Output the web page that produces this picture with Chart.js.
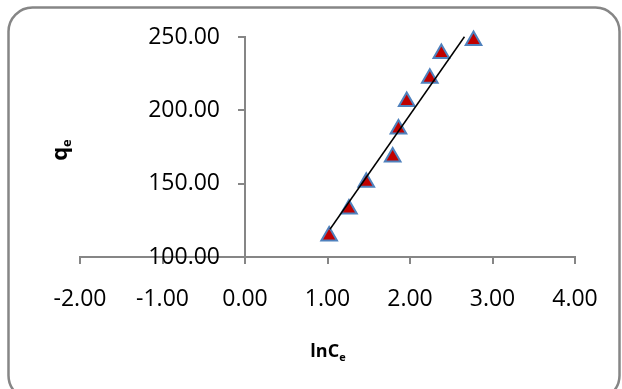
<!DOCTYPE html>
<html>
<head>
<meta charset="utf-8">
<script src="https://cdn.jsdelivr.net/npm/chart.js@4"></script>
<style>
  html, body { margin: 0; padding: 0; background: #fff; }
  #wrap { width: 622px; height: 389px; }
</style>
</head>
<body>
<div id="wrap"><canvas id="isotherm"></canvas></div>
<script>
// data
var lnCe = [1.02, 1.26, 1.47, 1.79, 1.86, 1.96, 2.24, 2.38, 2.77];
var qe = [114.3, 132.8, 151.0, 168.1, 187.3, 206.0, 221.9, 238.8, 247.6];

// linear trendline end points
var trendX = [1.03, 2.66];
var trendY = [118.9, 250.2];

var xTicks = [-2, -1, 0, 1, 2, 3, 4];
var yTicks = [100, 150, 200, 250];

var axisGray = '#868686';
var tickFont = { family: 'Open Sans', size: 23 };

// rounded frame, y tick labels (axis sits at x=0) and axis titles with subscript
const framePlugin = {
    id: 'frame',
    beforeDraw(chart) {
        const ctx = chart.ctx;
        ctx.save();
        ctx.fillStyle = '#fff';
        ctx.fillRect(0, 0, chart.width, chart.height);
        ctx.beginPath();
        ctx.roundRect(8.5, 7.5, 611, 392, 24);
        ctx.lineWidth = 2.5;
        ctx.strokeStyle = axisGray;
        ctx.stroke();
        ctx.restore();
    },
    afterDraw(chart) {
        const ctx = chart.ctx;
        const xs = chart.scales.x, ys = chart.scales.y;
        ctx.save();
        ctx.fillStyle = '#000';

        // y tick labels, left of the axis
        ctx.font = '23px "Open Sans"';
        ctx.textAlign = 'right';
        ctx.textBaseline = 'middle';
        var ax = xs.getPixelForValue(0);
        yTicks.forEach(v => {
            ctx.fillText(v.toFixed(2), ax - 25, ys.getPixelForValue(v));
        });

        ctx.textAlign = 'left';
        ctx.textBaseline = 'alphabetic';

        // x title: lnCe
        ctx.font = 'bold 18px "Open Sans"';
        var w1 = ctx.measureText('lnC').width;
        ctx.font = 'bold 11px "Open Sans"';
        var w2 = ctx.measureText('e').width;
        var x0 = 328 - (w1 + w2) / 2;
        ctx.font = 'bold 18px "Open Sans"';
        ctx.fillText('lnC', x0, 357);
        ctx.font = 'bold 11px "Open Sans"';
        ctx.fillText('e', x0 + w1, 361);

        // y title: qe, rotated
        ctx.translate(67, 150);
        ctx.rotate(-Math.PI / 2);
        ctx.font = 'bold 22px "Open Sans"';
        var q1 = ctx.measureText('q').width;
        ctx.font = 'bold 13px "Open Sans"';
        var q2 = ctx.measureText('e').width;
        ctx.font = 'bold 22px "Open Sans"';
        ctx.fillText('q', -(q1 + q2) / 2, 0);
        ctx.font = 'bold 13px "Open Sans"';
        ctx.fillText('e', -(q1 + q2) / 2 + q1, 4);
        ctx.restore();
    }
};

const isoChart = new Chart(document.getElementById('isotherm'), {
    type: 'scatter',
    data: {
        datasets: [
            {
                label: 'trend',
                type: 'line',
                data: trendX.map((x, i) => ({ x: x, y: trendY[i] })),
                borderColor: '#000',
                borderWidth: 1.5,
                pointRadius: 0,
                fill: false,
                clip: false,
                order: 0
            },
            {
                label: 'qe',
                data: lnCe.map((x, i) => ({ x: x, y: qe[i] })),
                pointStyle: 'triangle',
                pointRadius: 9,
                backgroundColor: '#C00000',
                borderColor: '#4F81BD',
                borderWidth: 2,
                clip: false,
                order: 1
            }
        ]
    },
    options: {
        responsive: true,
        maintainAspectRatio: false,
        animation: false,
        layout: {
            padding: { left: 80, right: 47, top: 37, bottom: 60 }
        },
        plugins: {
            legend: { display: false },
            tooltip: { enabled: false }
        },
        scales: {
            x: {
                type: 'linear',
                min: -2,
                max: 4,
                afterBuildTicks: s => { s.ticks = xTicks.map(v => ({ value: v })); },
                ticks: {
                    color: '#000',
                    font: tickFont,
                    padding: 22,
                    maxRotation: 0,
                    callback: v => v.toFixed(2)
                },
                grid: {
                    drawOnChartArea: false,
                    drawTicks: true,
                    tickLength: 7,
                    color: axisGray,
                    lineWidth: 2
                },
                border: { color: axisGray, width: 2 },
                afterFit: s => { s.height = 72; }
            },
            y: {
                type: 'linear',
                position: { x: 0 },
                min: 100,
                max: 250,
                afterBuildTicks: s => { s.ticks = yTicks.map(v => ({ value: v })); },
                ticks: { display: false },
                grid: {
                    drawOnChartArea: false,
                    drawTicks: true,
                    tickLength: 6,
                    color: axisGray,
                    lineWidth: 2
                },
                border: { color: axisGray, width: 2 }
            }
        }
    },
    plugins: [framePlugin]
});
</script>
</body>
</html>
